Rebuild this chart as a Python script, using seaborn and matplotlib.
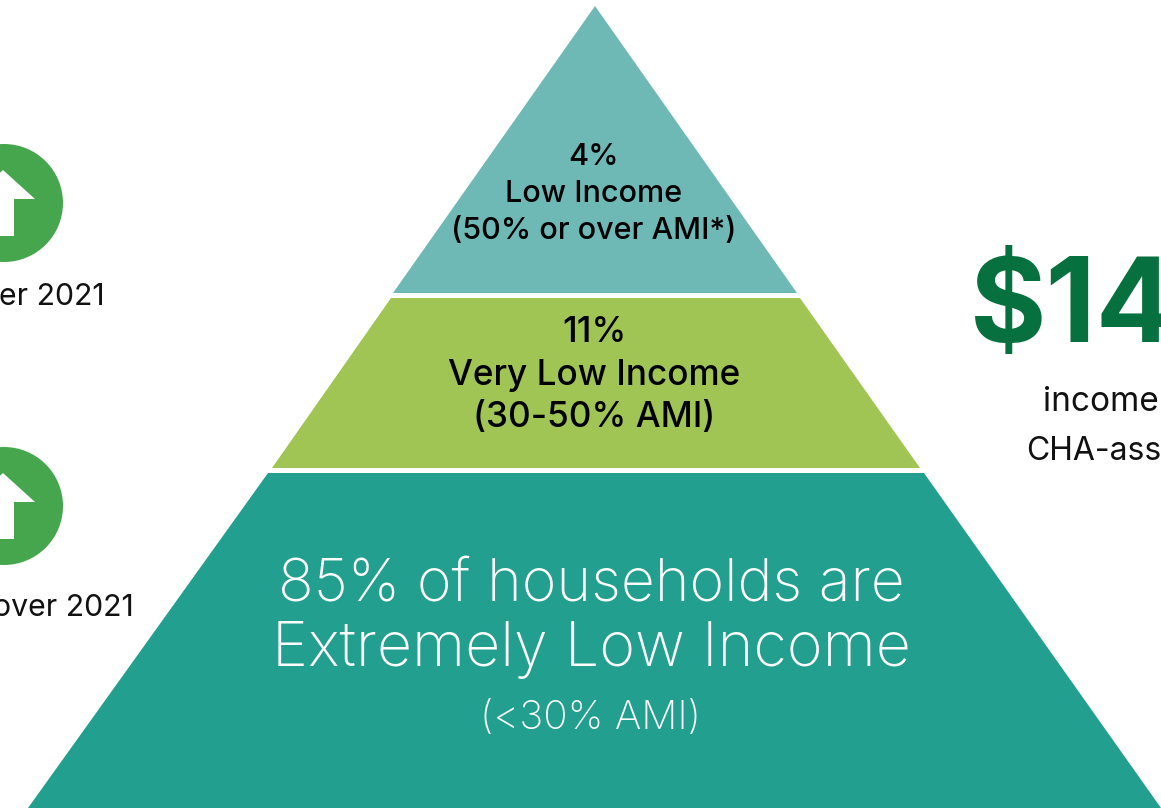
import matplotlib
matplotlib.use("Agg")
import matplotlib.pyplot as plt
import seaborn as sns
from matplotlib.patches import Circle, Polygon

sns.set_theme(style="white")
plt.rcParams['font.family'] = ['Inter', 'DejaVu Sans']

tier_top = [6, 298, 473]
tier_bottom = [293, 468, 808]
tier_left_top = [595, 391, 268]
tier_left_bottom = [393, 272, 28]
tier_right_top = [595, 800, 924]
tier_right_bottom = [797, 920, 1161]
tier_colors = ["#6EB9B6", "#A1C554", "#229F8F"]

badge_y = [203, 506]
badge_x = 4
caption_labels = ["er 2021", "over 2021"]
caption_x = [105, 134]
caption_y = [297, 608]

fig = plt.figure(figsize=(11.61, 8.11), dpi=100)
ax = fig.add_axes([0, 0, 1, 1])
ax.set_xlim(0, 1161)
ax.set_ylim(811, 0)
ax.axis("off")
sns.despine(ax=ax, left=True, bottom=True)

for t, b, lt, lb, rt, rb, c in zip(tier_top, tier_bottom, tier_left_top, tier_left_bottom,
                                   tier_right_top, tier_right_bottom, tier_colors):
    ax.add_patch(Polygon([(lt, t), (rt, t), (rb, b), (lb, b)], closed=True, fc=c, ec="none"))

for y in badge_y:
    ax.add_patch(Circle((badge_x, y), 59, fc="#45A64E", ec="none"))
    ax.add_patch(Polygon([(14, y + 33), (14, y - 4), (35, y - 4), (3, y - 33),
                          (-29, y - 4), (-8, y - 4), (-8, y + 33)],
                         closed=True, fc="white", ec="none"))

for s, x, y in zip(caption_labels, caption_x, caption_y):
    ax.text(x, y, s, ha="right", va="center", fontsize=21.8, color="#111111")

ax.text(594, 157, "4%", ha="center", va="center", fontsize=22, color="black", fontweight="medium")
ax.text(594, 194, "Low Income", ha="center", va="center", fontsize=22, color="black", fontweight="medium")
ax.text(594, 231, "(50% or over AMI*)", ha="center", va="center", fontsize=22, color="black", fontweight="medium")
ax.text(594, 332, "11%", ha="center", va="center", fontsize=25.3, color="black", fontweight="medium")
ax.text(594, 375, "Very Low Income", ha="center", va="center", fontsize=25.3, color="black", fontweight="medium")
ax.text(594, 418, "(30-50% AMI)", ha="center", va="center", fontsize=25.3, color="black", fontweight="medium")
ax.text(591, 585, "85% of households are", ha="center", va="center", fontsize=42.5, color="white", fontweight="light")
ax.text(591, 650, "Extremely Low Income", ha="center", va="center", fontsize=44, color="white", fontweight="light")
ax.text(591, 718, "(<30% AMI)", ha="center", va="center", fontsize=29, color="white", fontweight="light")

ax.text(970, 342, "$14", ha="left", va="baseline", fontsize=84, fontweight="bold", color="#07703F", clip_on=True)
ax.text(1159, 402, "income", ha="right", va="center", fontsize=24, color="#111111")
ax.text(1161, 451, "CHA-ass", ha="right", va="center", fontsize=23, color="#111111")

fig.savefig("out.png", dpi=100)
